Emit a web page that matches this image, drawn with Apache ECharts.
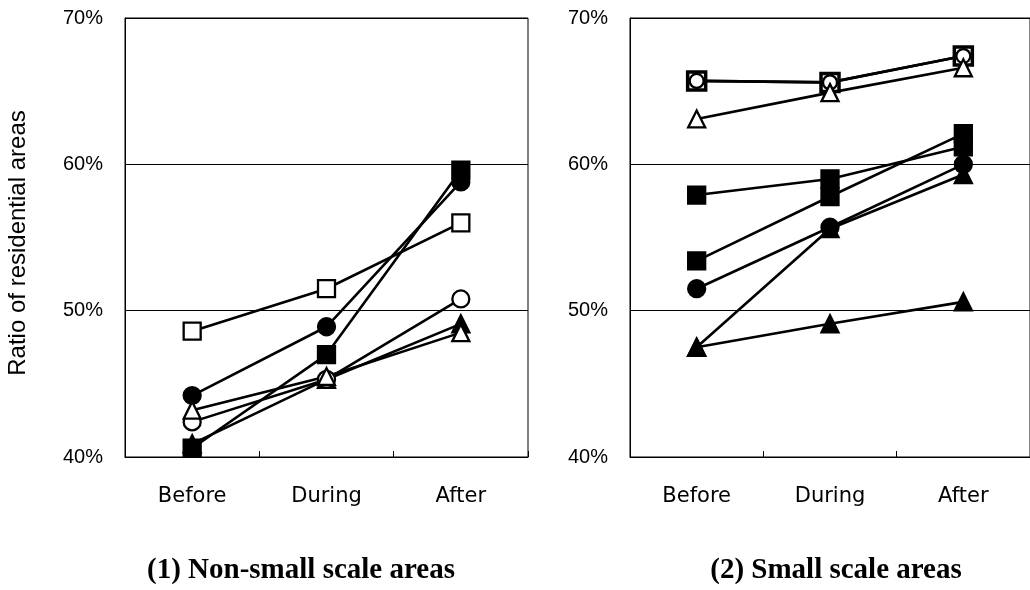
<!DOCTYPE html>
<html><head><meta charset="utf-8">
<script src="https://cdn.jsdelivr.net/npm/echarts@6/dist/echarts.min.js"></script>
<style>html,body{margin:0;padding:0;background:#fff}#c{width:1030px;height:590px}</style>
</head><body><div id="c"></div>
<script>
const categories = ['Before', 'During', 'After'];
const yMin = 40, yMax = 70, yStep = 10;
const yAxisTitle = 'Ratio of residential areas';
const panelTitles = ['(1) Non-small scale areas', '(2) Small scale areas'];

// Panel 1: non-small scale areas
const p1OpenSquare    = [48.6, 51.5, 56.0];
const p1FilledCircle  = [44.2, 48.9, 58.8];
const p1FilledSquare  = [40.6, 47.0, 59.6];
const p1OpenCircle    = [42.4, 45.3, 50.8];
const p1OpenTriangle  = [43.2, 45.5, 48.5];
const p1FilledTriangle= [40.9, 45.3, 49.1];

// Panel 2: small scale areas
const p2OpenSquare     = [65.7, 65.6, 67.4];
const p2OpenCircle     = [65.7, 65.6, 67.4];
const p2OpenTriangle   = [63.1, 64.9, 66.6];
const p2FilledSquareA  = [57.9, 59.0, 61.2];
const p2FilledSquareB  = [53.4, 57.8, 62.1];
const p2FilledCircle   = [51.5, 55.7, 60.0];
const p2FilledTriangleA= [47.5, 55.6, 59.3];
const p2FilledTriangleB= [47.5, 49.1, 50.6];

const chart = echarts.init(document.getElementById('c'));

function mk(data, idx, shape, filled, size, bw) {
  return {
    type: 'line', data: data, xAxisIndex: idx, yAxisIndex: idx,
    symbol: shape, symbolSize: size || 17, showSymbol: true,
    lineStyle: { color: '#000', width: 2.6 },
    itemStyle: { color: filled ? '#000' : '#fff', borderColor: '#000', borderWidth: bw || 2.3 },
    animation: false, z: filled ? 3 : 4
  };
}

function xAx(i) {
  return {
    type: 'category', gridIndex: i, data: categories, boundaryGap: true,
    axisLine: { lineStyle: { color: '#000', width: 1 } },
    axisTick: { show: true, inside: true, length: 6, lineStyle: { color: '#000' } },
    axisLabel: { margin: 29, fontSize: 21, fontFamily: 'DejaVu Sans', color: '#000' }
  };
}
function yAx(i) {
  return {
    type: 'value', gridIndex: i, min: yMin, max: yMax, interval: yStep,
    axisLine: { show: true, lineStyle: { color: '#000', width: 1 } },
    axisTick: { show: false },
    splitLine: { show: true, lineStyle: { color: '#000', width: 1 } },
    axisLabel: { margin: 22, formatter: '{value}%', fontFamily: 'Liberation Sans', fontSize: 20, color: '#000' }
  };
}

chart.setOption({
  backgroundColor: '#fff',
  animation: false,
  grid: [
    { left: 125, top: 18, width: 403, height: 439, show: true, borderColor: '#000', borderWidth: 1 },
    { left: 630, top: 18, width: 410, height: 439, show: true, borderColor: '#000', borderWidth: 1 }
  ],
  xAxis: [xAx(0), xAx(1)],
  yAxis: [yAx(0), yAx(1)],
  graphic: [
    { type: 'text', x: 18, y: 243, rotation: Math.PI / 2,
      style: { text: yAxisTitle, font: '24px "Liberation Sans"', fill: '#000', align: 'center', verticalAlign: 'middle' } },
    { type: 'text', x: 301, y: 571,
      style: { text: panelTitles[0], font: 'bold 29px "Liberation Serif"', fill: '#000', align: 'center', verticalAlign: 'middle' } },
    { type: 'text', x: 836, y: 571,
      style: { text: panelTitles[1], font: 'bold 29px "Liberation Serif"', fill: '#000', align: 'center', verticalAlign: 'middle' } }
  ],
  series: [
    mk(p1OpenSquare, 0, 'rect', false),
    mk(p1FilledCircle, 0, 'circle', true),
    mk(p1FilledSquare, 0, 'rect', true),
    mk(p1OpenCircle, 0, 'circle', false),
    mk(p1OpenTriangle, 0, 'triangle', false),
    mk(p1FilledTriangle, 0, 'triangle', true),
    mk(p2OpenSquare, 1, 'rect', false, 18, 3.5),
    mk(p2OpenCircle, 1, 'circle', false, 14),
    mk(p2OpenTriangle, 1, 'triangle', false),
    mk(p2FilledSquareA, 1, 'rect', true),
    mk(p2FilledSquareB, 1, 'rect', true),
    mk(p2FilledCircle, 1, 'circle', true),
    mk(p2FilledTriangleA, 1, 'triangle', true),
    mk(p2FilledTriangleB, 1, 'triangle', true)
  ]
});
</script></body></html>
